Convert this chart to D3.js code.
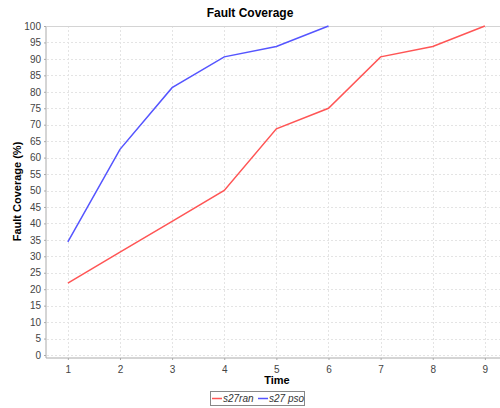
<!DOCTYPE html>
<html>
<head>
<meta charset="utf-8">
<script src="https://cdn.jsdelivr.net/npm/d3@7"></script>
<style>
  body { margin: 0; background: #fff; }
  svg { font-family: "Liberation Sans", Arial, sans-serif; }
</style>
</head>
<body>
<div id="data-vis"></div>
<script>
// chart data
const times = [1, 2, 3, 4, 5, 6, 7, 8, 9];
const ranValues = [21.875, 31.25, 40.625, 50, 68.75, 75, 90.625, 93.75, 100];
const psoValues = [34.375, 62.5, 81.25, 90.625, 93.75, 100];
const seriesNames = ["s27ran", "s27 pso"];
const yTicks = d3.range(0, 101, 5);

const w = 500, h = 408;
const marginTop = 26, marginRight = 0, marginBottom = 51, marginLeft = 47;

const svg = d3.select("#data-vis")
  .append("svg")
  .attr("width", w)
  .attr("height", h);

const x = d3.scaleLinear()
  .domain([0.6, 9.29])
  .range([marginLeft, w - marginRight]);

const y = d3.scaleLinear()
  .domain([0, 100])
  .range([355, marginTop]);

const plotBottom = h - marginBottom; // 357

// grid lines
svg.append("g")
  .selectAll("line")
  .data(yTicks)
  .join("line")
  .attr("x1", marginLeft).attr("x2", w)
  .attr("y1", d => Math.round(y(d)) + 0.5).attr("y2", d => Math.round(y(d)) + 0.5)
  .attr("stroke", "#e4e4e4").attr("stroke-dasharray", "2,2");

svg.append("g")
  .selectAll("line")
  .data(times)
  .join("line")
  .attr("x1", d => Math.round(x(d)) + 0.5).attr("x2", d => Math.round(x(d)) + 0.5)
  .attr("y1", marginTop).attr("y2", plotBottom)
  .attr("stroke", "#e4e4e4").attr("stroke-dasharray", "2,2");

// top border of plot
svg.append("line")
  .attr("x1", marginLeft).attr("x2", w)
  .attr("y1", marginTop + 0.5).attr("y2", marginTop + 0.5)
  .attr("stroke", "#d4d4d4");

// y axis
svg.append("g")
  .attr("transform", `translate(${marginLeft - 1},0)`)
  .call(d3.axisLeft(y).tickValues(yTicks).tickSize(2).tickPadding(3))
  .call(g => g.select(".domain").attr("stroke", "#aaa").attr("d", `M0,${marginTop}V${plotBottom + 1}`))
  .call(g => g.selectAll(".tick line").attr("stroke", "#aaa"))
  .call(g => g.selectAll("text").attr("fill", "#444").style("font-size", "10px"));

// x axis
svg.append("g")
  .attr("transform", `translate(0,${plotBottom + 1})`)
  .call(d3.axisBottom(x).tickValues(times).tickFormat(d3.format("d")).tickSize(2).tickPadding(6))
  .call(g => g.select(".domain").attr("stroke", "#aaa").attr("d", `M${marginLeft - 1},0H${w}`))
  .call(g => g.selectAll(".tick line").attr("stroke", "#aaa"))
  .call(g => g.selectAll("text").attr("fill", "#444").style("font-size", "10px"));

// lines
const line = d3.line()
  .x((d, i) => x(times[i]))
  .y(d => y(d));

svg.append("path")
  .datum(ranValues)
  .attr("fill", "none")
  .attr("stroke", "#ff5555")
  .attr("stroke-width", 1.5)
  .attr("d", line);

svg.append("path")
  .datum(psoValues)
  .attr("fill", "none")
  .attr("stroke", "#5555ff")
  .attr("stroke-width", 1.5)
  .attr("d", line);

// title
svg.append("text")
  .attr("x", 250).attr("y", 17)
  .attr("text-anchor", "middle")
  .style("font-size", "12px").style("font-weight", "bold")
  .text("Fault Coverage");

// axis labels
svg.append("text")
  .attr("x", 277).attr("y", 384)
  .attr("text-anchor", "middle")
  .style("font-size", "11px").style("font-weight", "bold")
  .text("Time");

svg.append("text")
  .attr("transform", `translate(21,${(marginTop + plotBottom) / 2}) rotate(-90)`)
  .attr("text-anchor", "middle")
  .style("font-size", "11px").style("font-weight", "bold")
  .text("Fault Coverage (%)");

// legend
const legend = svg.append("g");
legend.append("rect")
  .attr("x", 210.5).attr("y", 391.5)
  .attr("width", 94).attr("height", 14)
  .attr("fill", "#fff").attr("stroke", "#888");

const legColors = ["#ff5555", "#5555ff"];
const legX = [212, 258];
seriesNames.forEach((name, i) => {
  legend.append("line")
    .attr("x1", legX[i]).attr("x2", legX[i] + 10)
    .attr("y1", 398.5).attr("y2", 398.5)
    .attr("stroke", legColors[i]).attr("stroke-width", 1.5);
  legend.append("text")
    .attr("x", legX[i] + 11).attr("y", 402)
    .style("font-size", "10px").style("font-style", "italic")
    .attr("fill", "#333")
    .text(name);
});
</script>
</body>
</html>
